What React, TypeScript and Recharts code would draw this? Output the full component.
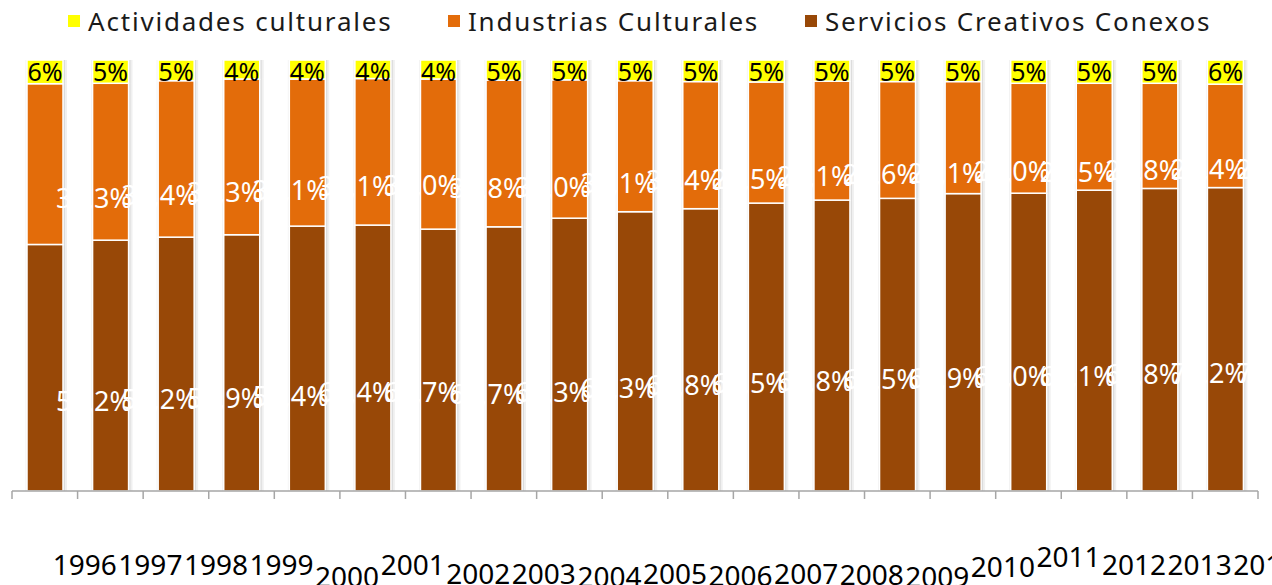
import React from 'react';
import { BarChart, Bar, XAxis, YAxis, Legend, LabelList } from 'recharts';

const years = ['1996', '1997', '1998', '1999', '2000', '2001', '2002', '2003', '2004', '2005', '2006', '2007', '2008', '2009', '2010', '2011', '2012', '2013', '2014'];
const servicios = [57.2, 58.2, 58.9, 59.4, 61.4, 61.7, 60.7, 61.3, 63.3, 64.8, 65.5, 66.8, 67.5, 67.9, 69.0, 69.1, 69.8, 70.2, 70.4];
const industrias = [37.3, 36.4, 36.3, 36.1, 34.1, 34.0, 34.8, 34.0, 32.1, 30.4, 29.5, 28.1, 27.6, 27.1, 26.0, 25.5, 24.8, 24.4, 24.0];
const actividades = [5.5, 5.4, 4.8, 4.4, 4.4, 4.3, 4.4, 4.7, 4.6, 4.8, 5.0, 5.1, 4.9, 5.0, 5.0, 5.4, 5.4, 5.4, 5.6];

const seriesNames = ['Actividades culturales', 'Industrias Culturales', 'Servicios Creativos Conexos'];
const seriesColors = ['#FFFF00', '#E36C0A', '#984807'];

// layout-only constants: legend item x positions and vertical stagger of category labels
const legendX = [68, 448, 805];
const tickDy = [0, 0, 0, 0, 12, 0, 9, 9, 12, 9, 11, 9, 10, 12, 2, -8, 0, 0, 0];

const W = 1272;
const H = 585;
const M = { top: 60, right: 14, bottom: 0, left: 12 };
const STEP = (W - M.left - M.right) / years.length;
const FONT = '"Noto Sans", "DejaVu Sans", sans-serif';

const data = years.map((y, i) => ({
  year: y,
  serv: servicios[i],
  ind: industrias[i],
  act: actividades[i],
}));

const fmt1 = (v: number) => v.toFixed(1).replace('.', ',') + '%';

const ShadowRect = (p: any) => {
  const x = Number(p.x), y = Number(p.y), w = Number(p.width), h = Number(p.height);
  if (!h || !w) return null;
  return (
    <g>
      <rect x={x + w} y={y} width={2} height={h} fill="#000" opacity={0.14} />
      <rect x={x + w + 2} y={y} width={2} height={h} fill="#000" opacity={0.06} />
      <rect x={x - 1.5} y={y} width={1.5} height={h} fill="#000" opacity={0.06} />
      <rect x={x} y={y} width={w} height={h} fill={p.fill} stroke="#ffffff" strokeWidth={1.5} />
    </g>
  );
};

const innerLabel = (arr: number[]) => (p: any) => {
  const x = Number(p.x), y = Number(p.y), w = Number(p.width), h = Number(p.height);
  const v = arr[p.index];
  if (v == null) return null;
  return (
    <text
      x={x + w / 2 + 11}
      y={y + h / 2 + 33}
      fill="#ffffff"
      fontSize={27}
      fontFamily={FONT}
      textAnchor="start"
      dominantBaseline="central"
    >
      {fmt1(v)}
    </text>
  );
};

const topLabel = (p: any) => {
  const x = Number(p.x), y = Number(p.y), w = Number(p.width);
  const v = actividades[p.index];
  if (v == null) return null;
  return (
    <text x={x + w / 2} y={y + 21} fill="#000000" fontSize={25} fontFamily={FONT} textAnchor="middle">
      {Math.round(v) + '%'}
    </text>
  );
};

const Tick = (p: any) => {
  const x = Number(p.x), y = Number(p.y);
  const i = p.index;
  const lx = x - STEP / 2;
  return (
    <g>
      <line x1={lx} y1={y} x2={lx} y2={y + 8} stroke="#A6A6A6" strokeWidth={1.5} />
      {i === years.length - 1 && (
        <line x1={x + STEP / 2} y1={y} x2={x + STEP / 2} y2={y + 8} stroke="#A6A6A6" strokeWidth={1.5} />
      )}
      <text
        x={x + 40}
        y={y + 73 + (tickDy[i] || 0)}
        fill="#000000"
        fontSize={28}
        fontFamily={FONT}
        textAnchor="middle"
        dominantBaseline="central"
      >
        {p.payload.value}
      </text>
    </g>
  );
};

const LegendContent = () => (
  <div style={{ position: 'relative', height: 42, width: W, fontFamily: FONT }}>
    {seriesNames.map((n, i) => (
      <div
        key={n}
        style={{ position: 'absolute', left: legendX[i], top: 0, height: 42, display: 'flex', alignItems: 'center' }}
      >
        <div style={{ width: 12, height: 12, background: seriesColors[i], marginRight: 8 }} />
        <span style={{ fontSize: 26, letterSpacing: 1.8, color: '#1a1a1a', whiteSpace: 'nowrap' }}>{n}</span>
      </div>
    ))}
  </div>
);

export default function App() {
  return (
    <div style={{ position: 'absolute', left: 0, top: 0, width: W, height: H, overflow: 'hidden', background: '#fff', fontFamily: FONT }}>
      <BarChart width={W} height={H} data={data} margin={M} stackOffset="expand" barSize={36}>
        <XAxis
          dataKey="year"
          height={94}
          interval={0}
          tickLine={false}
          tickSize={0}
          tickMargin={0}
          axisLine={{ stroke: '#A6A6A6', strokeWidth: 1.5 }}
          tick={<Tick />}
        />
        <YAxis hide domain={[0, 1]} />
        <Legend verticalAlign="middle" align="center" wrapperStyle={{ top: 0, left: 0, width: W }} content={<LegendContent />} />
        <Bar dataKey="serv" name={seriesNames[2]} stackId="a" fill={seriesColors[2]} shape={<ShadowRect />} isAnimationActive={false}>
          <LabelList dataKey="serv" content={innerLabel(servicios)} />
        </Bar>
        <Bar dataKey="ind" name={seriesNames[1]} stackId="a" fill={seriesColors[1]} shape={<ShadowRect />} isAnimationActive={false}>
          <LabelList dataKey="ind" content={innerLabel(industrias)} />
        </Bar>
        <Bar dataKey="act" name={seriesNames[0]} stackId="a" fill={seriesColors[0]} shape={<ShadowRect />} isAnimationActive={false}>
          <LabelList dataKey="act" content={topLabel} />
        </Bar>
      </BarChart>
    </div>
  );
}
